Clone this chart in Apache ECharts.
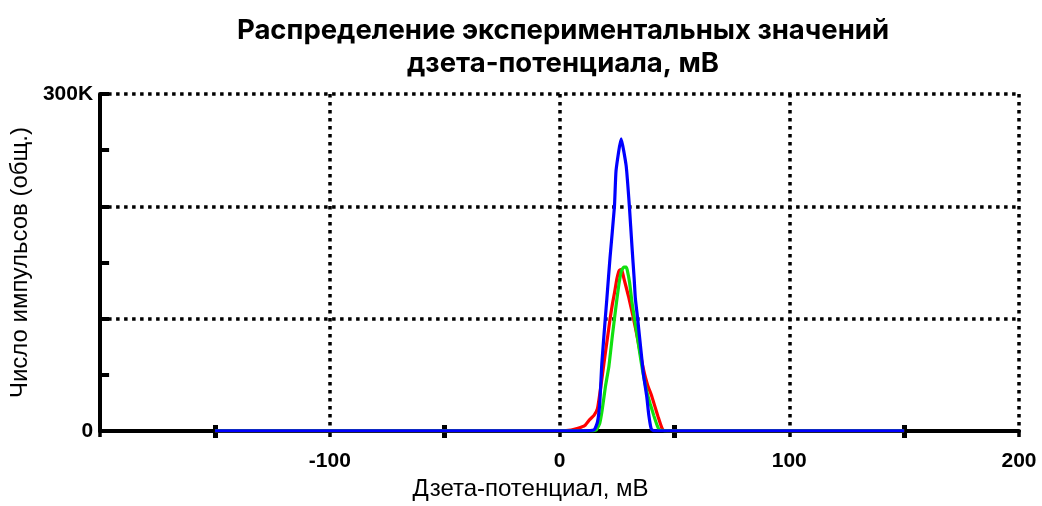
<!DOCTYPE html>
<html>
<head>
<meta charset="utf-8">
<script src="https://cdn.jsdelivr.net/npm/echarts@6/dist/echarts.min.js"></script>
<style>
  html, body { margin: 0; padding: 0; background: #fff; }
  #chart { width: 1042px; height: 506px; }
</style>
</head>
<body>
<div id="chart"></div>
<script>
// Zeta potential distribution, three runs (counts in thousands of pulses)
const redMv = [-150, -100, -50, 0, 5, 8, 11, 13, 15, 16.5, 18, 19.3, 21, 22, 23, 24, 25, 26, 27, 28, 30, 32, 34, 36, 37, 38.5, 40, 41.5, 43, 44.5, 45.5, 50, 100, 150];
const redK  = [0.3, 0.3, 0.3, 0.5, 1, 2.5, 5, 10, 14, 20, 40, 60, 85, 100, 113, 124, 136, 143, 144, 136, 120, 102, 82, 60, 51, 40, 32, 22, 12, 3, 0.5, 0.3, 0.3, 0.3];

const greenMv = [-150, -100, -50, 0, 10, 14.5, 16, 17.5, 18.5, 20, 21.5, 23, 24.2, 25, 26, 27, 28, 29, 29.5, 30.5, 31.5, 33, 34.5, 36.2, 38, 39.5, 41, 42.5, 43.5, 50, 100, 150];
const greenK  = [0.3, 0.3, 0.3, 0.3, 0.3, 0.5, 1, 7, 18, 40, 58, 85, 105, 118, 133, 143, 146, 146, 143, 132, 115, 95, 75, 53, 35, 24, 14, 5, 1, 0.3, 0.3, 0.3];

const blueMv = [-150, -100, -50, 0, 10, 15, 16.5, 17.5, 18.4, 19.9, 20.6, 22, 23.9, 24.6, 26.8, 29, 30.4, 31.5, 32.5, 33, 34, 36.5, 38, 38.8, 39.9, 41, 50, 100, 150];
const blueK  = [0.3, 0.3, 0.3, 0.3, 0.3, 1, 8, 25, 60, 100, 118, 155, 200, 232, 260, 236, 200, 165, 135, 118, 100, 51, 30, 15, 2, 0.3, 0.3, 0.3, 0.3];

const xLabels = { '-100': '-100', '0': '0', '100': '100', '200': '200' };
const yLabels = { '0': '0', '300000': '300K' };

function pairs(xs, ks) {
  return xs.map((x, i) => [x, ks[i] * 1000]);
}

const dotted = { color: '#000', width: 3.5, type: [3.5, 4.5] };
const tickFont = { color: '#000', fontFamily: 'Liberation Sans, Arial, sans-serif', fontWeight: 'bold', fontSize: 21 };
const nameFont = { fontFamily: 'Liberation Sans, Arial, sans-serif', fontSize: 24, color: '#000' };

const chart = echarts.init(document.getElementById('chart'), null, { renderer: 'canvas' });
chart.setOption({
  animation: false,
  backgroundColor: '#fff',
  title: {
    text: 'Распределение экспериментальных значений\nдзета-потенциала, мВ',
    left: 558,
    top: 9,
    textAlign: 'center',
    textStyle: { fontFamily: 'Inter, sans-serif', fontWeight: 'bold', fontSize: 27.5, lineHeight: 33, color: '#000' }
  },
  grid: { left: 98, right: 23, top: 94, bottom: 71, containLabel: false },
  xAxis: [
    {
      type: 'value', min: -200, max: 200, interval: 100,
      name: 'Дзета-потенциал, мВ', nameLocation: 'middle', nameGap: 44,
      nameTextStyle: { ...nameFont, padding: [0, 58, 0, 0] },
      axisLine: { show: true, onZero: false, lineStyle: { color: '#000', width: 4 } },
      axisTick: { show: true, length: 6, lineStyle: { color: '#000', width: 3.5 } },
      minorTick: { show: true, splitNumber: 2, length: 7, lineStyle: { color: '#000', width: 5 } },
      axisLabel: { ...tickFont, margin: 20, formatter: v => xLabels[String(v)] || '' },
      splitLine: { show: true, lineStyle: dotted }
    },
    {
      type: 'value', min: -200, max: 200, interval: 100, position: 'bottom',
      axisLine: { show: false },
      axisTick: { show: true, inside: true, length: 5, lineStyle: { color: 'rgba(0,0,0,0)' } },
      minorTick: { show: true, splitNumber: 2, length: 6, lineStyle: { color: '#000', width: 5 } },
      axisLabel: { show: false },
      splitLine: { show: false }
    }
  ],
  yAxis: [
    {
      type: 'value', min: 0, max: 300000, interval: 100000,
      name: 'Число импульсов (общ.)', nameLocation: 'middle', nameGap: 67,
      nameTextStyle: nameFont,
      axisLine: { show: true, onZero: false, lineStyle: { color: '#000', width: 4 } },
      axisTick: { show: true, inside: true, length: 9, lineStyle: { color: '#000', width: 4 } },
      minorTick: { show: true, splitNumber: 2, length: 9, lineStyle: { color: '#000', width: 4 } },
      axisLabel: { ...tickFont, margin: 7, formatter: v => yLabels[String(v)] || '' },
      splitLine: { show: true, lineStyle: dotted }
    }
  ],
  series: [
    { name: 'red', type: 'line', data: pairs(redMv, redK), showSymbol: false, smooth: 0.15,
      lineStyle: { color: '#ff0000', width: 3.2 }, z: 3 },
    { name: 'green', type: 'line', data: pairs(greenMv, greenK), showSymbol: false, smooth: 0.15,
      lineStyle: { color: '#10e010', width: 3.2 }, z: 4 },
    { name: 'blue', type: 'line', data: pairs(blueMv, blueK), showSymbol: false, smooth: 0.15,
      lineStyle: { color: '#0000ff', width: 3.2 }, z: 5 }
  ]
});
</script>
</body>
</html>
